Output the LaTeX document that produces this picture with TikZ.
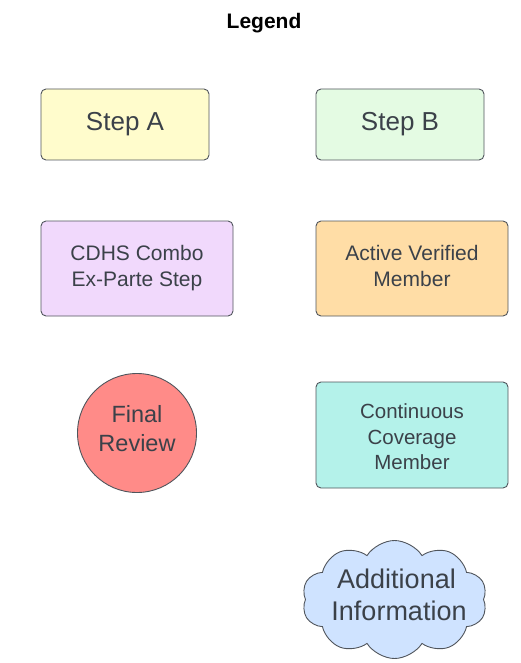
\documentclass[tikz,border=0pt]{standalone}
\usepackage{fontspec}
\setmainfont{Liberation Sans}
\usetikzlibrary{shapes.symbols}
\definecolor{edge}{HTML}{50555C}
\definecolor{ink}{HTML}{3B4149}
\definecolor{stepafill}{HTML}{FFFCCC}
\definecolor{stepbfill}{HTML}{E4FBE3}
\definecolor{cdhsfill}{HTML}{F1D9FC}
\definecolor{activefill}{HTML}{FFDDA6}
\definecolor{reviewfill}{HTML}{FF8B88}
\definecolor{contfill}{HTML}{B4F2EA}
\definecolor{infofill}{HTML}{CFE3FF}
\newcommand{\lowdepth}[1]{\rule[-#1]{0pt}{0pt}}
\tikzset{
  box/.style={draw=edge, line width=0.9pt, rounded corners=5pt, text=ink, align=center, inner sep=0pt},
  bigtext/.style={font=\fontsize{26}{30}\selectfont},
  smalltext/.style={font=\fontsize{21}{26}\selectfont}
}

\begin{document}
\begin{tikzpicture}[x=1pt,y=-1pt]
	\useasboundingbox (0,0) rectangle (520,663);
	%\draw[step=50,black,very thin] (0,0) grid (520,663);
	\node[font=\bfseries\fontsize{21}{25}\selectfont] (legend) at (264,23) {Legend};
	% first row
	\node[box, bigtext, fill=stepafill, minimum width=168pt, minimum height=71pt] (stepA) at (125,124.5) {Step A};
	\node[box, bigtext, fill=stepbfill, minimum width=168pt, minimum height=71pt] (stepB) at (400,124.5) {Step B};
	% second row
	\node[box, smalltext, fill=cdhsfill, minimum width=192pt, minimum height=95pt] (cdhs) at (137,268.5) {CDHS Combo\\Ex-Parte Step};
	\node[box, smalltext, fill=activefill, minimum width=192pt, minimum height=95pt] (active) at (412,268.5) {Active Verified\\Member\lowdepth{6pt}};
	% third row
	\node[circle, draw=edge, line width=0.9pt, fill=reviewfill, text=ink, align=center, inner sep=0pt, minimum size=119pt,
	      font=\fontsize{23.5}{29}\selectfont] (review) at (137,433) {Final\\Review\lowdepth{10pt}};
	\node[box, fill=contfill, minimum width=192pt, minimum height=106pt, font=\fontsize{20.5}{25.5}\selectfont] (continuous) at (412,435) {\rule{0pt}{19pt}Continuous\\Coverage\\Member};
	% cloud, text kept out of its size
	\node[cloud, cloud puffs=10, cloud puff arc=115, aspect=1.55, draw=edge, line width=0.9pt, fill=infofill, text=ink,
	      inner sep=0pt, minimum width=185pt, minimum height=118pt, font=\fontsize{27}{32}\selectfont] (info) at (394.5,599.5)
	      {\smash{\makebox[0pt]{\hspace{9pt}\raisebox{-5pt}{\begin{tabular}{@{}c@{}}\hspace{-5pt}Additional\\Information\end{tabular}}}}};
\end{tikzpicture}
\end{document}
